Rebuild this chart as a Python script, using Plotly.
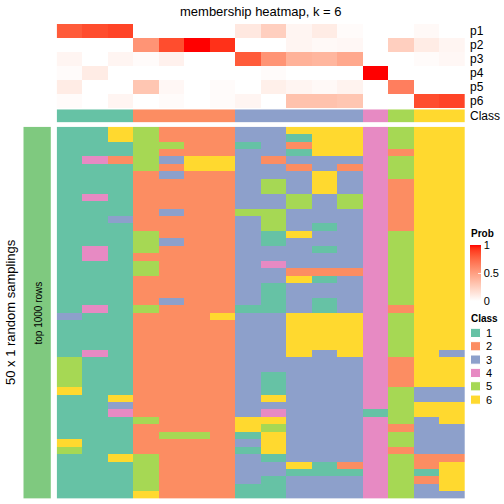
import plotly.graph_objects as go

# ---------------- data ----------------
prob_labels = ["p1", "p2", "p3", "p4", "p5", "p6"]
p1 = [0.80, 0.85, 0.88, 0.0, 0.0, 0.0, 0.0, 0.12, 0.25, 0.05, 0.10, 0.02, 0.0, 0.0, 0.03, 0.0]
p2 = [0.0, 0.0, 0.0, 0.55, 0.85, 1.0, 0.93, 0.0, 0.0, 0.05, 0.03, 0.04, 0.0, 0.25, 0.10, 0.05]
p3 = [0.05, 0.0, 0.05, 0.02, 0.07, 0.0, 0.0, 0.80, 0.55, 0.40, 0.38, 0.45, 0.0, 0.0, 0.02, 0.04]
p4 = [0.02, 0.10, 0.0, 0.0, 0.0, 0.0, 0.0, 0.0, 0.02, 0.0, 0.0, 0.0, 1.0, 0.0, 0.0, 0.0]
p5 = [0.10, 0.0, 0.0, 0.30, 0.04, 0.0, 0.02, 0.0, 0.08, 0.05, 0.03, 0.06, 0.0, 0.65, 0.0, 0.0]
p6 = [0.02, 0.0, 0.05, 0.0, 0.02, 0.0, 0.02, 0.05, 0.0, 0.32, 0.32, 0.30, 0.0, 0.0, 0.85, 0.88]

column_class = [1, 1, 1, 2, 2, 2, 2, 3, 3, 3, 3, 3, 4, 5, 6, 6]

# 50 random samplings (rows) x 16 samples (columns), class per cell
sampling_rows = [
    "1165222336664566", "1165222331664566", "1115522132664566", "1115222331664266",
    "1425366323334566", "1115266332324566", "1112322333634566", "1112222353634266",
    "1112222353634266", "1412222335354266", "1112222335354266", "1112322553334266",
    "1132222353334266", "1112222353134266", "1115222316334566", "1115322313334566",
    "1415222333134566", "1412222333334566", "1115222343334566", "1115222332224566",
    "1112222336134566", "1112222313334566", "1112222313334566", "1112322313134566",
    "1415222113134266", "3112226336664566", "1112222336664566", "1112222336664566",
    "1112222336664566", "1112222336664566", "1412222336364563", "5112222333334266",
    "5112222333334266", "5112222313334266", "5112222313334266", "6112222313334533",
    "1162222363334533", "1132222333334566", "1142222343331566", "1115222663334536",
    "1112222653334233", "1112552163334533", "6112222363334533", "5112222163334233",
    "1165222313334522", "1115222336124526", "1115222331114516", "1115222313334526",
    "1115222113334536", "1116222113334533",
]

class_labels = ["1", "2", "3", "4", "5", "6"]
class_colors = ["#66C2A5", "#FC8D62", "#8DA0CB", "#E78AC3", "#A6D854", "#FFD92F"]
prob_ticks = [0, 0.5, 1]

# ---------------- helpers ----------------
W = H = 504.0
def px(x):
    return x / W
def py(y):
    return 1 - y / H

def srgb_to_lab(rgb):
    def lin(c):
        c = c / 255.0
        return c / 12.92 if c <= 0.04045 else ((c + 0.055) / 1.055) ** 2.4
    r, g, b = [lin(c) for c in rgb]
    X = 0.4124 * r + 0.3576 * g + 0.1805 * b
    Y = 0.2126 * r + 0.7152 * g + 0.0722 * b
    Z = 0.0193 * r + 0.1192 * g + 0.9505 * b
    Xn, Yn, Zn = 0.95047, 1.0, 1.08883
    def f(t):
        return t ** (1 / 3) if t > 0.008856 else 7.787 * t + 16 / 116
    fx, fy, fz = f(X / Xn), f(Y / Yn), f(Z / Zn)
    return (116 * fy - 16, 500 * (fx - fy), 200 * (fy - fz))

def lab_to_srgb(lab):
    L, a, b = lab
    fy = (L + 16) / 116
    fx = fy + a / 500
    fz = fy - b / 200
    def finv(t):
        return t ** 3 if t ** 3 > 0.008856 else (t - 16 / 116) / 7.787
    Xn, Yn, Zn = 0.95047, 1.0, 1.08883
    X, Y, Z = Xn * finv(fx), Yn * finv(fy), Zn * finv(fz)
    r = 3.2406 * X - 1.5372 * Y - 0.4986 * Z
    g = -0.9689 * X + 1.8758 * Y + 0.0415 * Z
    bb = 0.0557 * X - 0.2040 * Y + 1.0570 * Z
    def gam(c):
        c = max(0.0, min(1.0, c))
        return 12.92 * c if c <= 0.0031308 else 1.055 * c ** (1 / 2.4) - 0.055
    return tuple(int(round(255 * gam(c))) for c in (r, g, bb))

lab_w = srgb_to_lab((255, 255, 255))
lab_r = srgb_to_lab((255, 0, 0))
prob_scale = []
for i in range(21):
    t = i / 20
    lab = tuple(lab_w[k] + (lab_r[k] - lab_w[k]) * t for k in range(3))
    r, g, b = lab_to_srgb(lab)
    prob_scale.append([t, f"rgb({r},{g},{b})"])

disc_scale = []
for i, c in enumerate(class_colors):
    disc_scale.append([i / 6, c])
    disc_scale.append([(i + 1) / 6, c])

main_z = [[int(ch) for ch in row] for row in sampling_rows]
prob_z = [p1, p2, p3, p4, p5, p6]
ncol = len(column_class)
cols = list(range(ncol))

# geometry (page pixels)
HX0, HX1 = 56.7, 465.0
FONT = "Liberation Sans, Arial, Helvetica, sans-serif"

fig = go.Figure()

fig.add_trace(go.Heatmap(
    z=prob_z, x=cols, y=prob_labels, xaxis="x", yaxis="y",
    colorscale=prob_scale, zmin=0, zmax=1, hoverinfo="skip",
    colorbar=dict(
        x=px(469.5), xanchor="left", y=py(273), yanchor="middle",
        len=56, lenmode="pixels", thickness=11, thicknessmode="pixels",
        tickvals=prob_ticks, ticktext=["0", "0.5", "1"],
        ticks="inside", tickcolor="rgba(255,255,255,0.8)", ticklen=3,
        outlinewidth=0, xpad=0, ypad=0,
        tickfont=dict(family=FONT, size=11, color="#000"),
    ),
))

fig.add_trace(go.Heatmap(
    z=[column_class], x=cols, y=["Class"], xaxis="x", yaxis="y2",
    colorscale=disc_scale, zmin=0.5, zmax=6.5, showscale=False, hoverinfo="skip",
))

fig.add_trace(go.Heatmap(
    z=main_z, x=cols, y=list(range(len(main_z))), xaxis="x", yaxis="y3",
    colorscale=disc_scale, zmin=0.5, zmax=6.5, showscale=False, hoverinfo="skip",
))

fig.add_trace(go.Heatmap(
    z=[[1]], x=[0], y=[0], xaxis="x2", yaxis="y4",
    colorscale=[[0, "#7FC97F"], [1, "#7FC97F"]], showscale=False, hoverinfo="skip",
))

ax = dict(showticklabels=False, showgrid=False, zeroline=False, ticks="", showline=False)
fig.update_layout(
    width=int(W), height=int(H),
    margin=dict(l=0, r=0, t=0, b=0),
    paper_bgcolor="white", plot_bgcolor="white",
    showlegend=False,
    xaxis=dict(domain=[px(HX0), px(HX1)], range=[-0.5, ncol - 0.5], anchor="y3", **ax),
    yaxis=dict(domain=[py(108.3), py(24)], autorange="reversed", anchor="x", **ax),
    yaxis2=dict(domain=[py(122.5), py(109.3)], anchor="x", **ax),
    yaxis3=dict(domain=[py(498.5), py(126.7)], autorange="reversed", anchor="x", **ax),
    xaxis2=dict(domain=[px(23.3), px(50.8)], range=[-0.5, 0.5], anchor="y4", **ax),
    yaxis4=dict(domain=[py(498.5), py(126.7)], range=[-0.5, 0.5], anchor="x2", **ax),
)

ann = []
ann.append(dict(text="membership heatmap, k = 6", x=px(261), y=py(11), xref="paper", yref="paper",
                showarrow=False, xanchor="center", yanchor="middle",
                font=dict(family=FONT, size=13, color="#000")))
row_y = [31, 45, 59, 73, 87, 101, 116]
for lab, yy in zip(prob_labels + ["Class"], row_y):
    ann.append(dict(text=lab, x=px(468), y=py(yy), xref="paper", yref="paper",
                    showarrow=False, xanchor="left", yanchor="middle",
                    font=dict(family=FONT, size=12, color="#000")))
ann.append(dict(text="top 1000 rows", x=px(37.5), y=py(313), xref="paper", yref="paper",
                showarrow=False, textangle=-90, xanchor="center", yanchor="middle",
                font=dict(family=FONT, size=10, color="#000")))
ann.append(dict(text="50 x 1 random samplings", x=px(10), y=py(312), xref="paper", yref="paper",
                showarrow=False, textangle=-90, xanchor="center", yanchor="middle",
                font=dict(family=FONT, size=13, color="#000")))
ann.append(dict(text="<b>Prob</b>", x=px(469), y=py(233), xref="paper", yref="paper",
                showarrow=False, xanchor="left", yanchor="middle",
                font=dict(family=FONT, size=10, color="#000")))
ann.append(dict(text="<b>Class</b>", x=px(469), y=py(318), xref="paper", yref="paper",
                showarrow=False, xanchor="left", yanchor="middle",
                font=dict(family=FONT, size=10, color="#000")))

shapes = []
for i, (lab, col) in enumerate(zip(class_labels, class_colors)):
    top = 328.3 + 13.35 * i
    shapes.append(dict(type="rect", xref="paper", yref="paper",
                       x0=px(470.5), x1=px(480.5), y0=py(top + 9.2), y1=py(top),
                       fillcolor=col, line=dict(width=1, color="white")))
    ann.append(dict(text=lab, x=px(484), y=py(top + 4.6), xref="paper", yref="paper",
                    showarrow=False, xanchor="left", yanchor="middle",
                    font=dict(family=FONT, size=11, color="#000")))

fig.update_layout(annotations=ann, shapes=shapes)
# remove the default page margin so the 504x504 figure fills the window exactly
fig.write_html(
    "out.html",
    config={"displayModeBar": False, "staticPlot": True},
    post_script="document.body.style.margin='0px';document.body.style.padding='0px';"
                "document.body.style.overflow='hidden';",
)
